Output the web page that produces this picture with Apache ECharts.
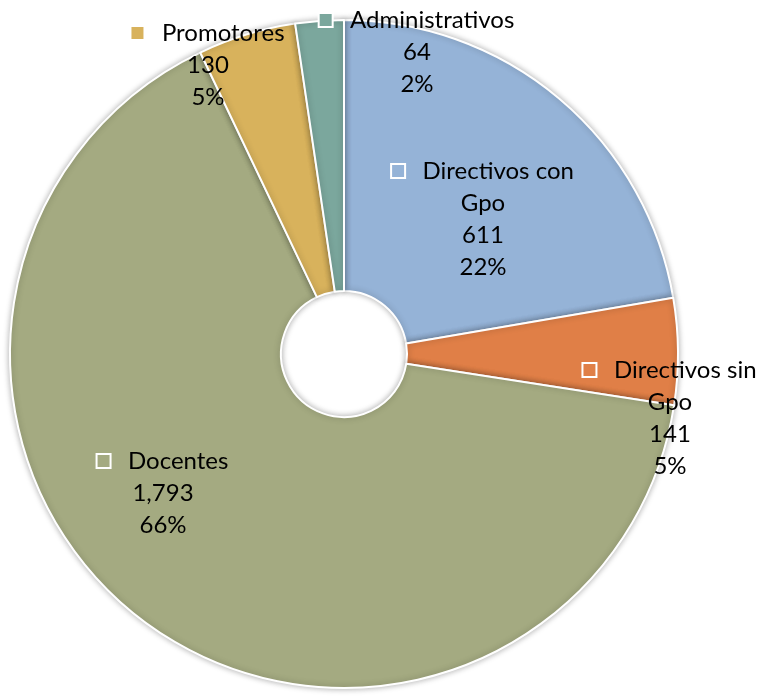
<!DOCTYPE html>
<html><head><meta charset="utf-8">
<script src="https://cdn.jsdelivr.net/npm/echarts@6/dist/echarts.min.js"></script>
<style>html,body{margin:0;padding:0;background:#fff}#c{width:759px;height:699px}</style>
</head><body><div id="c"></div>
<script>
var categories = ['Directivos con Gpo', 'Directivos sin Gpo', 'Docentes', 'Promotores', 'Administrativos'];
var values = [611, 141, 1793, 130, 64];
var colors = ['#95B3D7', '#E07F47', '#A4AA81', '#D8B25C', '#7BA79D'];
// label block centres (layout only)
var labelPos = [[483, 219], [670, 418], [163, 493], [208, 65], [417, 52]];

function fmtNum(v) { return String(v).replace(/\B(?=(\d{3})+(?!\d))/g, ','); }

var chart = echarts.init(document.getElementById('c'), null, {renderer: 'canvas'});
var data = categories.map(function (n, i) {
  return {
    name: n, value: values[i],
    itemStyle: {color: colors[i]},
    label: {rich: {icon: {width: 12, height: 12, backgroundColor: colors[i], borderColor: '#fff', borderWidth: 2}}}
  };
});
chart.setOption({
  animation: false,
  series: [{
    type: 'pie',
    center: [344, 354],
    radius: [63, 334],
    startAngle: 90,
    clockwise: true,
    percentPrecision: 0,
    data: data,
    itemStyle: {borderColor: '#fff', borderWidth: 2, shadowBlur: 6, shadowColor: 'rgba(0,0,0,0.3)'},
    label: {
      show: true,
      position: 'inside',
      color: '#000',
      fontFamily: 'Lato',
      fontSize: 24,
      lineHeight: 32,
      align: 'center',
      verticalAlign: 'middle',
      formatter: function (p) {
        var name = p.name.replace(/ Gpo$/, '\nGpo');
        var lines = name.split('\n');
        var first = '{icon|}   ' + lines[0];
        var rest = lines.slice(1);
        return [first].concat(rest).concat([fmtNum(p.value), p.percent + '%']).join('\n');
      },
      rich: {}
    },
    labelLine: {show: false},
    labelLayout: function (p) {
      var pos = labelPos[p.dataIndex];
      return {x: pos[0], y: pos[1], align: 'center', verticalAlign: 'middle'};
    }
  }]
});
</script></body></html>
